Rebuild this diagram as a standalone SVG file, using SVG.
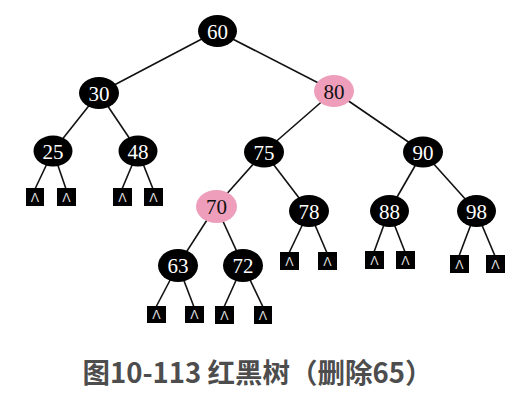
<svg xmlns="http://www.w3.org/2000/svg" width="518" height="400" viewBox="0 0 518 400">
<style>
.e line{stroke:#111;stroke-width:1.6}
.b ellipse{fill:#000}
.r ellipse{fill:#EE9EBB}
.b text{fill:#fff}
.r text{fill:#111}
.n text{font-family:"Liberation Serif",serif;font-size:21px;text-anchor:middle}
.l rect{fill:#000}
.l text{fill:#ddd;font-family:"Liberation Sans",sans-serif;font-size:12.5px;text-anchor:middle}
.cap{font-family:"Noto Sans CJK SC",sans-serif;font-weight:bold;font-size:27.5px;fill:#4d4d4d;text-anchor:middle}
</style>
<rect width="518" height="400" fill="#fff"/>
<g class="e" id="edges">
<line x1="217" y1="31" x2="99" y2="93"/>
<line x1="217" y1="31" x2="334" y2="91"/>
<line x1="99" y1="93" x2="53" y2="151"/>
<line x1="99" y1="93" x2="138" y2="151"/>
<line x1="53" y1="151" x2="35" y2="189"/>
<line x1="53" y1="151" x2="66" y2="189"/>
<line x1="138" y1="151" x2="122" y2="189"/>
<line x1="138" y1="151" x2="153" y2="189"/>
<line x1="334" y1="91" x2="264" y2="152"/>
<line x1="334" y1="91" x2="423" y2="152"/>
<line x1="264" y1="152" x2="216" y2="206"/>
<line x1="264" y1="152" x2="309" y2="211"/>
<line x1="216" y1="206" x2="178" y2="265"/>
<line x1="216" y1="206" x2="243" y2="265"/>
<line x1="178" y1="265" x2="156" y2="307"/>
<line x1="178" y1="265" x2="194" y2="307"/>
<line x1="243" y1="265" x2="224" y2="307"/>
<line x1="243" y1="265" x2="263" y2="307"/>
<line x1="309" y1="211" x2="289" y2="253"/>
<line x1="309" y1="211" x2="327" y2="253"/>
<line x1="423" y1="152" x2="389" y2="211"/>
<line x1="423" y1="152" x2="476" y2="211"/>
<line x1="389" y1="211" x2="374" y2="252"/>
<line x1="389" y1="211" x2="405" y2="252"/>
<line x1="476" y1="211" x2="459" y2="256"/>
<line x1="476" y1="211" x2="495" y2="256"/>
</g>
<g id="n60" class="n b"><ellipse cx="217.5" cy="31" rx="19.5" ry="16"/><text x="217.5" y="38.5">60</text></g>
<g id="n30" class="n b"><ellipse cx="99" cy="93" rx="20" ry="16"/><text x="99" y="100.5">30</text></g>
<g id="n80" class="n r"><ellipse cx="334" cy="91" rx="20" ry="16"/><text x="334" y="98.5">80</text></g>
<g id="n25" class="n b"><ellipse cx="53" cy="151" rx="19.5" ry="15.5"/><text x="53" y="158.5">25</text></g>
<g id="n48" class="n b"><ellipse cx="138" cy="151" rx="19.5" ry="15.5"/><text x="138" y="158.5">48</text></g>
<g id="n75" class="n b"><ellipse cx="264" cy="152" rx="20" ry="15.5"/><text x="264" y="159.5">75</text></g>
<g id="n90" class="n b"><ellipse cx="423" cy="152" rx="20" ry="15.5"/><text x="423" y="159.5">90</text></g>
<g id="n70" class="n r"><ellipse cx="216.5" cy="206.5" rx="20.5" ry="16.5"/><text x="216.5" y="214">70</text></g>
<g id="n78" class="n b"><ellipse cx="309" cy="211" rx="20" ry="16"/><text x="309" y="218.5">78</text></g>
<g id="n88" class="n b"><ellipse cx="389.5" cy="211" rx="19.5" ry="16"/><text x="389.5" y="218.5">88</text></g>
<g id="n98" class="n b"><ellipse cx="476.5" cy="211" rx="19.5" ry="16"/><text x="476.5" y="218.5">98</text></g>
<g id="n63" class="n b"><ellipse cx="178" cy="265.5" rx="20" ry="16.5"/><text x="178" y="273">63</text></g>
<g id="n72" class="n b"><ellipse cx="243" cy="265.5" rx="20" ry="16.5"/><text x="243" y="273">72</text></g>
<g id="leaves" class="l">
<g id="l25a"><rect x="26" y="188" width="18" height="18"/><text x="35" y="201.5">Λ</text></g>
<g id="l25b"><rect x="57" y="188" width="19" height="18"/><text x="66.5" y="201.5">Λ</text></g>
<g id="l48a"><rect x="113" y="188" width="19" height="18"/><text x="122.5" y="201.5">Λ</text></g>
<g id="l48b"><rect x="144" y="188" width="19" height="18"/><text x="153.5" y="201.5">Λ</text></g>
<g id="l63a"><rect x="147" y="306" width="19" height="17"/><text x="156.5" y="319">Λ</text></g>
<g id="l63b"><rect x="185" y="306" width="19" height="17"/><text x="194.5" y="319">Λ</text></g>
<g id="l72a"><rect x="215" y="306" width="19" height="18"/><text x="224.5" y="319.5">Λ</text></g>
<g id="l72b"><rect x="254" y="306" width="18" height="18"/><text x="263" y="319.5">Λ</text></g>
<g id="l78a"><rect x="280" y="252" width="19" height="18"/><text x="289.5" y="265.5">Λ</text></g>
<g id="l78b"><rect x="318" y="252" width="19" height="18"/><text x="327.5" y="265.5">Λ</text></g>
<g id="l88a"><rect x="365" y="251" width="19" height="18"/><text x="374.5" y="264.5">Λ</text></g>
<g id="l88b"><rect x="396" y="251" width="19" height="18"/><text x="405.5" y="264.5">Λ</text></g>
<g id="l98a"><rect x="450" y="255" width="19" height="18"/><text x="459.5" y="268.5">Λ</text></g>
<g id="l98b"><rect x="486" y="255" width="19" height="18"/><text x="495.5" y="268.5">Λ</text></g>
</g>
<text class="cap" x="257.5" y="383">图10-113 红黑树（删除65）</text>
</svg>
